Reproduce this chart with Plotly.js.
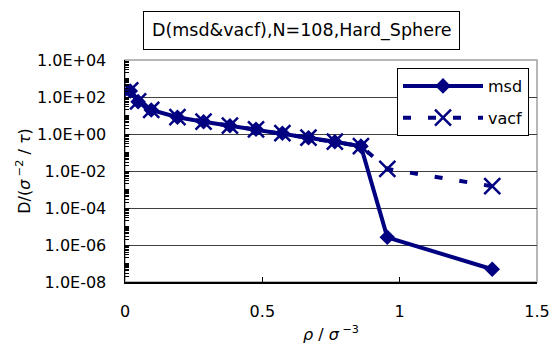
<!DOCTYPE html>
<html>
<head>
<meta charset="utf-8">
<script src="https://cdn.plot.ly/plotly-3.0.1.min.js"></script>
<style>html,body{margin:0;padding:0;background:#fff;}#chart{width:550px;height:345px;}</style>
</head>
<body>
<div id="chart"></div>
<script>
// density rho / sigma^-3
const rho = [0.0191, 0.0477, 0.0955, 0.191, 0.286, 0.382, 0.477, 0.573, 0.668, 0.764, 0.859, 0.955, 1.337];
// diffusion coefficient from mean square displacement
const dMsd = [210, 56, 20, 8.0, 4.6, 2.8, 1.8, 1.1, 0.63, 0.38, 0.22, 2.6e-6, 4.9e-8];
// diffusion coefficient from velocity autocorrelation function
const dVacf = [230, 58, 20, 8.2, 4.7, 2.8, 1.8, 1.1, 0.64, 0.39, 0.22, 0.013, 1.5e-3];
const yTickVals = [1e-8, 1e-6, 1e-4, 1e-2, 1e0, 1e2, 1e4];
const yTickText = ["1.0E-08", "1.0E-06", "1.0E-04", "1.0E-02", "1.0E+00", "1.0E+02", "1.0E+04"];
const xTickVals = [0, 0.5, 1, 1.5];
const xTickText = ["0", "0.5", "1", "1.5"];

const navy = '#000080';
const FONT = 'DejaVu Sans, Liberation Sans, sans-serif';

const traces = [
  {
    x: rho, y: dMsd, name: 'msd', type: 'scatter', mode: 'lines+markers', legendgroup: 'g1',
    line: {color: navy, width: 4},
    marker: {symbol: 'diamond', size: 12, color: navy}
  },
  {
    x: rho, y: dVacf, name: 'vacf', type: 'scatter', mode: 'lines+markers', legendgroup: 'g2',
    line: {color: navy, width: 4, dash: '8px,17px'},
    marker: {symbol: 'x-thin-open', size: 16, color: navy, line: {color: navy, width: 2.5}}
  }
];

const layout = {
  width: 550, height: 345,
  margin: {l: 125, r: 13, t: 60, b: 63},
  paper_bgcolor: '#fff', plot_bgcolor: '#fff',
  font: {family: FONT, size: 16, color: '#000'},
  showlegend: true,
  legend: {
    x: (529 - 125) / 412, xanchor: 'right', y: 1 - (68 - 60) / 222, yanchor: 'top',
    bgcolor: '#fff', bordercolor: '#000', borderwidth: 1,
    font: {family: FONT, size: 16, color: '#000'},
    itemwidth: 80, traceorder: 'grouped', tracegroupgap: 8
  },
  xaxis: {
    range: [0, 1.5], tickmode: 'array', tickvals: xTickVals, ticktext: xTickText,
    ticks: 'inside', ticklen: 5, tickcolor: '#000',
    ticklabelstandoff: 14,
    showline: true, linecolor: '#000', linewidth: 1.5,
    showgrid: false, zeroline: false,
    tickfont: {family: FONT, size: 16},
    title: {text: '<i>ρ</i> / <i>σ</i><sup> −3</sup>', font: {family: FONT, size: 16}, standoff: 9}
  },
  yaxis: {
    type: 'log', range: [-8, 4], tickmode: 'array', tickvals: yTickVals, ticktext: yTickText,
    ticks: 'inside', ticklen: 5, tickcolor: '#000',
    ticklabelstandoff: 14,
    minor: {dtick: 'D1', ticks: 'inside', ticklen: 4, tickcolor: '#000', showgrid: false},
    showline: true, linecolor: '#000', linewidth: 1.5,
    showgrid: true, gridcolor: '#404040', gridwidth: 1,
    zeroline: false,
    tickfont: {family: FONT, size: 16},
    title: {text: 'D/(<i>σ</i><sup> −2</sup> / <i>τ</i>)', font: {family: FONT, size: 16}, standoff: 2}
  },
  shapes: [
    {type: 'rect', xref: 'paper', yref: 'paper', x0: 0, x1: 1, y0: 0, y1: 1,
     line: {color: '#a0a0a0', width: 1.5}, fillcolor: 'rgba(0,0,0,0)', layer: 'below'}
  ],
  annotations: [
    {text: 'D(msd&vacf),N=108,Hard_Sphere', xref: 'paper', yref: 'paper',
     x: (301 - 125) / 412, y: 1 + (60 - 30.5) / 222, xanchor: 'center', yanchor: 'middle',
     showarrow: false, font: {family: FONT, size: 17.5, color: '#000'},
     bordercolor: '#000', borderwidth: 1, borderpad: 8, bgcolor: '#fff'}
  ]
};

Plotly.newPlot('chart', traces, layout, {displayModeBar: false, staticPlot: true});
</script>
</body>
</html>
